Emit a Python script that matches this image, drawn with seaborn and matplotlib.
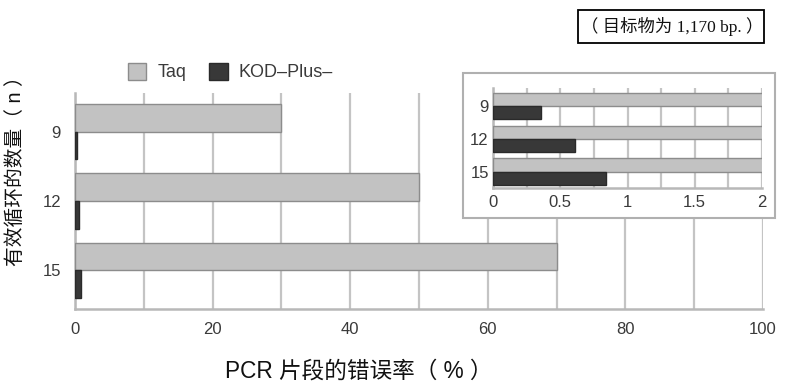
import matplotlib
matplotlib.use("Agg")
import matplotlib.pyplot as plt
import seaborn as sns
import pandas as pd
from matplotlib.patches import Rectangle, Patch

cycles = ["9", "12", "15"]
enzymes = ["Taq", "KOD–Plus–"]
taq_rate = [30, 50, 70]
kod_rate = [0.36, 0.61, 0.84]
main_ticks = [0, 20, 40, 60, 80, 100]
inset_ticks = [0, 0.5, 1, 1.5, 2]
inset_tick_labels = ["0", "0.5", "1", "1.5", "2"]
title_text = "（ 目标物为 1,170 bp. ）"
xlabel = "PCR 片段的错误率（ % ）"
ylabel = "有效循环的数量（ n ）"

df = pd.DataFrame({
    "cycles": cycles * 2,
    "enzyme": [enzymes[0]] * 3 + [enzymes[1]] * 3,
    "rate": taq_rate + kod_rate,
})

sns.set_theme(style="white")
plt.rcParams["font.family"] = ["Liberation Sans", "Noto Sans CJK SC", "DejaVu Sans"]

taq_c = "#c2c2c2"
kod_c = "#383838"
grid_c = "#c4c4c4"
spine_c = "#b8b8b8"
txt_c = "#3a3a3a"

fig = plt.figure(figsize=(7.91, 3.86), dpi=100)
W, H = 791, 386

def fax(x0, y0, x1, y1):
    return [x0 / W, 1 - y1 / H, (x1 - x0) / W, (y1 - y0) / H]

# main axes
ax = fig.add_axes(fax(75, 93, 763, 309))
ax.set_zorder(0)
sns.barplot(data=df, y="cycles", x="rate", hue="enzyme", orient="h",
            palette=[taq_c, kod_c], ax=ax, legend=False, width=0.8,
            edgecolor="#8c8c8c", linewidth=1.0, zorder=3)
for p in ax.patches[3:]:
    p.set_edgecolor("#2a2a2a")
ax.set_xlim(0, 100)
ax.set_ylim(2.56, -0.56)
ax.set_xticks(range(0, 101, 10), minor=True)
ax.set_xticks(main_ticks)
ax.set_xticklabels([str(t) for t in main_ticks], fontsize=12, color=txt_c)
ax.tick_params(axis="y", labelsize=12, labelcolor=txt_c, length=0, pad=10)
ax.tick_params(axis="x", length=0, pad=9)
ax.tick_params(axis="x", which="minor", length=0)
ax.grid(axis="x", which="both", color=grid_c, linewidth=1.6, zorder=0)
ax.set_axisbelow(True)
for s in ["top", "right"]:
    ax.spines[s].set_visible(False)
for s in ["left", "bottom"]:
    ax.spines[s].set_color(spine_c)
    ax.spines[s].set_linewidth(1.8)
ax.set_xlabel("")
ax.set_ylabel("")

fig.text(225 / W, 1 - 371 / H, xlabel, ha="left", va="center", fontsize=16.3,
         color="#111111")
fig.text(16 / W, 1 - 66 / H, ylabel, ha="center", va="top", fontsize=14.2,
         color="#111111", rotation=90)

# legend
handles = [Patch(facecolor=taq_c, edgecolor="#8c8c8c"),
           Patch(facecolor=kod_c, edgecolor="#2a2a2a")]
fig.legend(handles, enzymes, loc="center left",
           bbox_to_anchor=(112 / W, 1 - 72 / H), ncol=2, frameon=False,
           fontsize=13, handlelength=1.0, handleheight=1.1,
           columnspacing=1.3, handletextpad=0.6, labelcolor=txt_c)

# inset background box
bg = Rectangle((463 / W, 1 - 218 / H), 312 / W, 145 / H, transform=fig.transFigure,
               facecolor="white", edgecolor="#b0b0b0", linewidth=1.5, zorder=1)
fig.add_artist(bg)

# inset axes
ins = fig.add_axes(fax(493, 88, 762, 188))
ins.set_zorder(2)
sns.barplot(data=df, y="cycles", x="rate", hue="enzyme", orient="h",
            palette=[taq_c, kod_c], ax=ins, legend=False, width=0.8,
            edgecolor="#8c8c8c", linewidth=1.0, zorder=3)
for p in ins.patches[3:]:
    p.set_edgecolor("#2a2a2a")
ins.set_xlim(0, 2)
ins.set_ylim(2.5, -0.55)
ins.set_xticks([i * 0.25 for i in range(9)], minor=True)
ins.set_xticks(inset_ticks)
ins.set_xticklabels(inset_tick_labels, fontsize=12, color=txt_c)
ins.tick_params(axis="y", labelsize=12, labelcolor=txt_c, length=0, pad=3)
ins.tick_params(axis="x", length=0, pad=5)
ins.tick_params(axis="x", which="minor", length=0)
ins.grid(axis="x", which="both", color=grid_c, linewidth=1.6, zorder=0)
ins.set_axisbelow(True)
ins.set_xlabel("")
ins.set_ylabel("")
ins.patch.set_alpha(0)
for s in ["top", "right"]:
    ins.spines[s].set_visible(False)
for s in ["left", "bottom"]:
    ins.spines[s].set_color(spine_c)
    ins.spines[s].set_linewidth(1.8)

# title box
tb = Rectangle((578 / W, 1 - 43 / H), 186 / W, 33 / H, transform=fig.transFigure,
               facecolor="white", edgecolor="black", linewidth=1.3, zorder=3)
fig.add_artist(tb)
fig.text(672 / W, 1 - 27 / H, title_text, ha="center", va="center", fontsize=12.5,
         family=["Liberation Serif", "Noto Sans CJK SC"], color="#111111", zorder=4)

fig.savefig("out.png", dpi=100)
